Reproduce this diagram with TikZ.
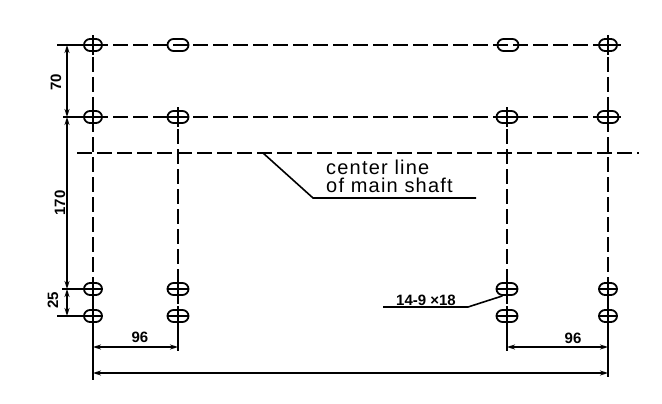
\documentclass[tikz,border=0pt]{standalone}
\usepackage{fontspec}
\setmainfont{Liberation Sans}
\usetikzlibrary{arrows.meta,shapes.misc}
\tikzset{
	slot/.style={draw, rounded rectangle, line width=1.8pt, minimum width=18pt, minimum height=12pt, inner sep=0pt},
	longslot/.style={slot, minimum width=21pt},
	axis/.style={line width=1.8pt, dash pattern=on 15pt off 5pt},
	thin line/.style={line width=1.6pt},
	dim/.style={line width=1.4pt, {Stealth[length=8pt,width=5pt]}-{Stealth[length=8pt,width=5pt]}},
	dimtext/.style={font=\bfseries\fontsize{15}{15}\selectfont, inner sep=0pt},
	note/.style={font=\addfontfeature{LetterSpace=6}\fontsize{20}{18}\selectfont, align=left, inner sep=0pt, anchor=west}
}
\begin{document}
\begin{tikzpicture}[x=1pt, y=-1pt]
	\useasboundingbox (0,0) rectangle (662,404);
	% slots
	\node[slot] (a1) at (93,45) {};
	\node[longslot] (a2) at (178,45) {};
	\node[longslot] (a3) at (508,45) {};
	\node[slot] (a4) at (608,45) {};
	\node[slot] (b1) at (93,117) {};
	\node[longslot] (b2) at (178,117) {};
	\node[longslot] (b3) at (507,117) {};
	\node[longslot] (b4) at (608,117) {};
	\node[slot] (c1) at (93,289) {};
	\node[longslot] (c2) at (178,289) {};
	\node[longslot] (c3) at (507,289) {};
	\node[slot] (c4) at (608,289) {};
	\node[slot] (d1) at (93,316) {};
	\node[longslot] (d2) at (178,316) {};
	\node[longslot] (d3) at (507,316) {};
	\node[slot] (d4) at (608,316) {};
	% free ends
	\coordinate (rowaL) at (57,45);
	\coordinate (rowaR) at (621,45);
	\coordinate (rowbL) at (63,117);
	\coordinate (rowbR) at (621,117);
	\coordinate (rowcL) at (62,289);
	\coordinate (rowdL) at (57,316);
	\coordinate (col1T) at (93,37);
	\coordinate (col2T) at (178,109);
	\coordinate (col3T) at (507,109);
	\coordinate (col4T) at (608,37);
	\coordinate (col1B) at (93,325);
	\coordinate (col2B) at (178,325);
	\coordinate (col3B) at (507,325);
	\coordinate (col4B) at (608,325);
	\coordinate (end1) at (93,380);
	\coordinate (end2) at (178,351);
	\coordinate (end3) at (507,351);
	\coordinate (end4) at (608,377);
	\coordinate (shaftL) at (77,153);
	\coordinate (shaftR) at (639,153);
	% center lines
	\draw[axis] (a1.center) -- (rowaR);
	\draw[axis] (b1.center) -- (rowbR);
	\draw[axis] (shaftL) -- (shaftR);
	\draw[axis] (col1T) -- (d1.center);
	\draw[axis] (col2T) -- (d2.center);
	\draw[axis] (col3T) -- (d3.center);
	\draw[axis] (col4T) -- (d4.center);
	% crosses in the slots
	\foreach \s in {a1,a4,b1,b2,b3,b4,c1,c2,c3,c4,d1,d2,d3,d4} {
		\draw[thin line, shorten >=-3pt, shorten <=-3pt] (\s.north) -- (\s.south);
		\draw[thin line] (\s.west) -- (\s.east);
	}
	% extension lines
	\draw[thin line] (rowaL) -- (a1.west);
	\draw[thin line] (rowbL) -- (b1.west);
	\draw[thin line] (rowcL) -- (c1.west);
	\draw[thin line] (rowdL) -- (d1.west);
	\draw[thin line] (col1B) -- (end1);
	\draw[thin line] (col2B) -- (end2);
	\draw[thin line] (col3B) -- (end3);
	\draw[thin line] (col4B) -- (end4);
	% dimensions
	\coordinate (v70) at (67,45);
	\coordinate (v170a) at (67,117);
	\coordinate (v170b) at (67,289);
	\coordinate (v25) at (67,316);
	\coordinate (h96a) at (93,347);
	\coordinate (h96b) at (178,347);
	\coordinate (h96c) at (507,347);
	\coordinate (h96d) at (608,347);
	\coordinate (htotL) at (93,373);
	\coordinate (htotR) at (608,373);
	\draw[dim] (v70) -- (v170a);
	\draw[dim] (v170a) -- (v170b);
	\draw[dim] (v170b) -- (v25);
	\draw[dim] (h96a) -- (h96b);
	\draw[dim] (h96c) -- (h96d);
	\draw[dim] (htotL) -- (htotR);
	\node[dimtext, rotate=90] (t70) at (56,82) {70};
	\node[dimtext, rotate=90] (t170) at (60,203) {170};
	\node[dimtext, rotate=90] (t25) at (53,300) {25};
	\node[dimtext] (t96a) at (140,337) {96};
	\node[dimtext] (t96b) at (573,338) {96};
	% leaders
	\coordinate (shaftpt) at (263,153);
	\coordinate (shaftknee) at (313,198);
	\coordinate (shaftend) at (476,198);
	\coordinate (slotknee) at (468,307);
	\coordinate (slotend) at (383,307);
	\draw[thin line] (shaftpt) -- (shaftknee) -- (shaftend);
	\draw[thin line] (c3.south west) -- (slotknee) -- (slotend);
	\node[note] (center) at (326,176.5) {center line\\of main shaft};
	\node[dimtext] (holes) at (426,300) {14-9 ×18};
\end{tikzpicture}
\end{document}
